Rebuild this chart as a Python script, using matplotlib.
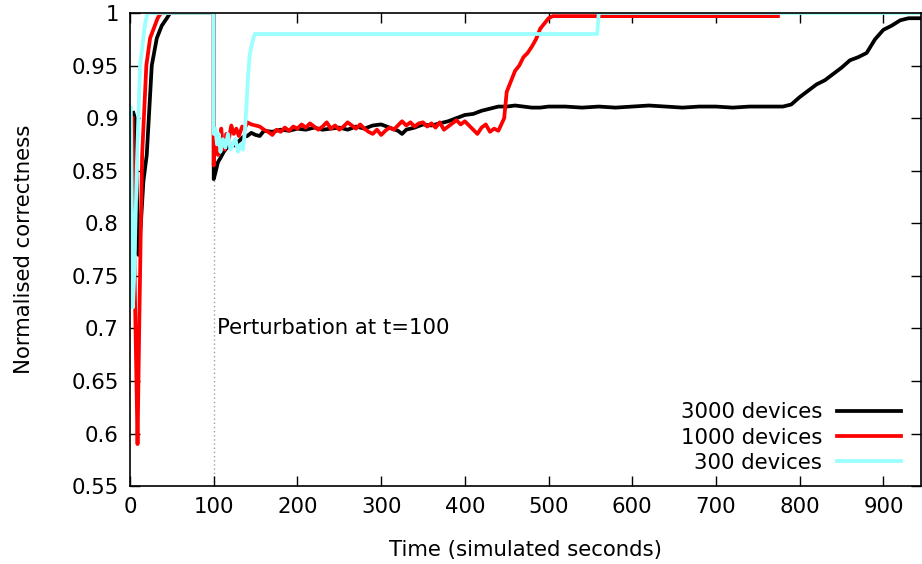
import numpy as np
import matplotlib
matplotlib.use("Agg")
import matplotlib.pyplot as plt

# time (simulated seconds) and normalised correctness
t_3000 = [4, 6, 10, 13, 16, 20, 26, 32, 38, 44, 48, 100,
          100, 102, 105, 108, 112, 116, 120, 125, 130, 135, 140, 145, 150, 155, 160,
          170, 180, 190, 200, 210, 220, 230, 240, 250, 260, 270, 280, 290, 300,
          310, 320, 325, 330, 340, 350, 360, 370, 380, 390, 400, 410, 420, 430,
          440, 450, 460, 470, 480, 490, 500, 520, 540, 560, 580, 600, 620, 640,
          660, 680, 700, 720, 740, 760, 780, 790, 800, 810, 820, 830, 840, 850,
          860, 870, 880, 890, 900, 910, 920, 930, 945]
c_3000 = [0.905, 0.900, 0.770, 0.800, 0.840, 0.865, 0.950, 0.976, 0.988, 0.995, 1.0, 1.0,
          0.842, 0.848, 0.858, 0.862, 0.868, 0.872, 0.875, 0.874, 0.878, 0.882, 0.883,
          0.886, 0.884, 0.883, 0.888, 0.887, 0.889, 0.888, 0.890, 0.889, 0.891, 0.889,
          0.890, 0.891, 0.889, 0.892, 0.890, 0.893, 0.894, 0.891, 0.888, 0.885, 0.889,
          0.891, 0.894, 0.893, 0.895, 0.897, 0.900, 0.903, 0.904, 0.907, 0.909, 0.911,
          0.911, 0.912, 0.911, 0.910, 0.910, 0.911, 0.911, 0.910, 0.911, 0.910, 0.911,
          0.912, 0.911, 0.910, 0.911, 0.911, 0.910, 0.911, 0.911, 0.911, 0.913, 0.920,
          0.926, 0.932, 0.936, 0.942, 0.948, 0.955, 0.958, 0.962, 0.975, 0.984, 0.988,
          0.993, 0.995, 0.995]

t_1000 = [3, 5.5, 9, 11, 13, 14.5, 19.5, 24, 33, 37, 100,
          100, 101, 103, 105, 107, 109, 111, 113, 115, 118, 121, 124, 127, 130, 134,
          137, 140, 145, 150, 155, 160, 165, 170, 175, 180, 185, 190, 195, 200, 205,
          210, 215, 220, 225, 230, 235, 240, 245, 250, 255, 260, 265, 270, 275, 280,
          285, 290, 295, 300, 305, 310, 315, 320, 325, 330, 335, 340, 345, 350, 355,
          360, 365, 370, 375, 380, 385, 390, 395, 400, 405, 410, 415, 420, 425, 430,
          435, 440, 443, 447, 450, 455, 460, 465, 470, 475, 480, 485, 490, 495, 500,
          505, 774]
c_1000 = [0.90, 0.75, 0.59, 0.70, 0.80, 0.865, 0.95, 0.976, 0.995, 1.0, 1.0,
          0.855, 0.880, 0.885, 0.865, 0.875, 0.890, 0.872, 0.870, 0.885, 0.880, 0.893,
          0.885, 0.890, 0.883, 0.892, 0.890, 0.896, 0.894, 0.893, 0.892, 0.889, 0.887,
          0.884, 0.889, 0.887, 0.891, 0.888, 0.892, 0.890, 0.894, 0.891, 0.895, 0.892,
          0.889, 0.892, 0.896, 0.890, 0.893, 0.889, 0.892, 0.896, 0.893, 0.890, 0.894,
          0.890, 0.887, 0.885, 0.889, 0.884, 0.888, 0.891, 0.889, 0.893, 0.897, 0.893,
          0.896, 0.892, 0.895, 0.896, 0.892, 0.895, 0.891, 0.896, 0.889, 0.892, 0.895,
          0.898, 0.894, 0.897, 0.893, 0.889, 0.885, 0.891, 0.894, 0.887, 0.890, 0.888,
          0.893, 0.900, 0.925, 0.935, 0.945, 0.950, 0.958, 0.962, 0.968, 0.975, 0.985,
          0.990, 0.995, 0.997, 0.997]

t_300 = [1, 3.5, 5, 8.5, 12, 18, 21, 100,
         100, 102, 104, 106, 108, 111, 114, 117, 120, 123, 126, 129, 132, 135, 137,
         139, 141, 143, 146, 149, 558, 560, 945]
c_300 = [0.91, 0.72, 0.75, 0.865, 0.95, 0.99, 1.0, 1.0,
         0.885, 0.890, 0.875, 0.885, 0.868, 0.880, 0.872, 0.885, 0.870, 0.875, 0.880,
         0.868, 0.875, 0.870, 0.885, 0.910, 0.940, 0.960, 0.972, 0.980, 0.980, 1.0, 1.0]

series = [("3000 devices", t_3000, c_3000, "black"),
          ("1000 devices", t_1000, c_1000, "red"),
          ("300 devices", t_300, c_300, "#99ffff")]

perturb_t = 100

plt.rcParams["font.family"] = "DejaVu Sans"
plt.rcParams["font.size"] = 15.3

fig = plt.figure(figsize=(9.22, 5.64), dpi=100)
ax = fig.add_axes([0.141, 0.138, 0.858, 0.839])

ax.axvline(perturb_t, color="#a0a0a0", linestyle=(0, (1, 2)), linewidth=1, zorder=1)

for label, t, c, col in series:
    ax.plot(t, c, color=col, linewidth=2.7, label=label, zorder=2)

ax.text(perturb_t + 4, 0.70, "Perturbation at t=100", ha="left", va="center")

ax.set_xlim(0, 945)
ax.set_ylim(0.55, 1.0)
ax.set_xticks(np.arange(0, 901, 100))
ax.set_yticks(np.arange(0.55, 1.001, 0.05))
ax.set_yticklabels([f"{v:g}" for v in np.round(np.arange(0.55, 1.001, 0.05), 2)])
ax.tick_params(direction="in", top=True, right=True, length=7, width=1, pad=8)
for s in ax.spines.values():
    s.set_linewidth(1.2)

ax.set_xlabel("Time (simulated seconds)", labelpad=16)
ax.set_ylabel("Normalised correctness", labelpad=27)

ax.legend(loc="lower right", bbox_to_anchor=(0.985, 0.01), borderaxespad=0,
          frameon=False, markerfirst=False, handlelength=3.0, handletextpad=0.7,
          labelspacing=0.25, fontsize=15.3)

fig.savefig("out.png", dpi=100)
